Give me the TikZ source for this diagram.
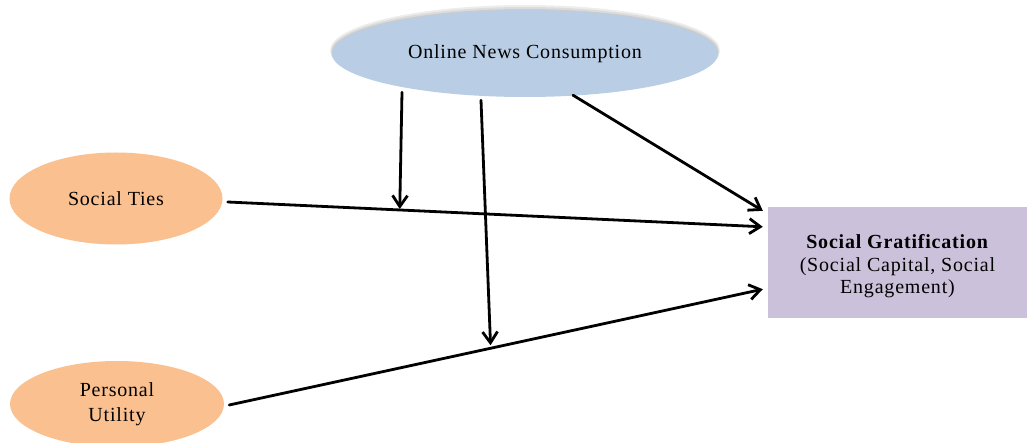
\documentclass[tikz,border=0pt]{standalone}
\usepackage{fontspec}
\setmainfont{Liberation Serif}[LetterSpace=4]
\usetikzlibrary{shapes.geometric,arrows.meta}
\definecolor{newsblue}{HTML}{B9CDE5}
\definecolor{factororange}{HTML}{FAC090}
\definecolor{outcomepurple}{HTML}{CCC1DA}
\begin{document}
\begin{tikzpicture}[x=1pt,y=-1pt,
  oval/.style={ellipse, inner sep=0pt, align=center,
    font=\fontsize{20}{25}\selectfont},
  outcome/.style={rectangle, inner sep=0pt, align=center, fill=outcomepurple,
    font=\fontsize{20}{22.5}\selectfont},
  shade/.style={ellipse, inner sep=0pt, fill=black, opacity=0.07},
  link/.style={line width=2.8pt, line cap=round,
    -{Straight Barb[length=11pt,width=15pt]}}]
\useasboundingbox (0,0) rectangle (1029,443);

% soft shadow above the moderator oval
\node[shade, minimum width=390pt, minimum height=91pt] at (525,50.5) {};
\node[shade, minimum width=388pt, minimum height=89pt] at (525,51.5) {};
\node[shade, minimum width=387pt, minimum height=87pt] at (525,52.5) {};

% variables
\node[oval, fill=newsblue, minimum width=386pt, minimum height=87pt]
  (news) at (525,53.5) {Online News Consumption};
\node[oval, fill=factororange, minimum width=213pt, minimum height=92pt]
  (ties) at (116,198.5) {Social Ties};
\node[oval, fill=factororange, minimum width=214pt, minimum height=86pt]
  (util) at (117,404) {Personal\\Utility};
\node[outcome, minimum width=259pt, minimum height=111pt]
  (grat) at (897.5,262.5)
  {\rule{0pt}{22pt}\textbf{Social Gratification}\\(Social Capital, Social\\Engagement)};

% direct effects
\draw[link] ([shift={(5,3.5)}]ties.east) -- ([shift={(-5,20)}]grat.north west)
  coordinate[pos=0.3215] (tiesmid);
\draw[link] ([shift={(5,1)}]util.east) -- ([shift={(-5,-29)}]grat.south west)
  coordinate[pos=0.49] (utilmid);
\draw[link] ([shift={(48,-2)}]news.south) -- ([shift={(-5,4)}]grat.north west);

% moderating effects
\draw[link, shorten >=1pt] ([shift={(-123,-5)}]news.south) -- (tiesmid);
\draw[link, shorten >=3pt] ([shift={(-44,3)}]news.south) -- (utilmid);
\end{tikzpicture}
\end{document}
